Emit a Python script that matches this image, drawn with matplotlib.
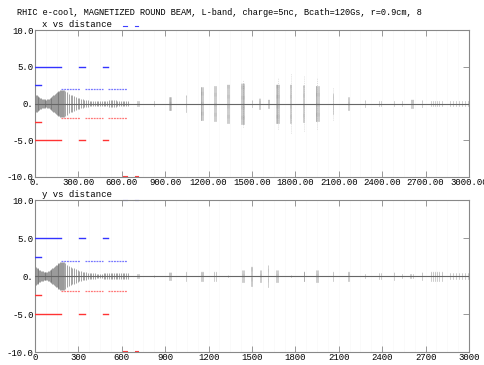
import matplotlib
matplotlib.use("Agg")
import matplotlib.pyplot as plt

# beam envelope plot, two panels: x and y half-size vs distance (cm)
title = "RHIC e-cool, MAGNETIZED ROUND BEAM, L-band, charge=5nc, Bcath=120Gs, r=0.9cm, 8"

# dense region near the gun (same for x and y)
dense_pos = [0, 6, 12, 18, 24, 30, 36, 42, 48, 54, 60, 66, 72, 78, 84, 90, 96,
             102, 108, 114, 120, 126, 132, 138, 144, 150, 156, 162, 168, 174,
             180, 186, 192]
dense_amp = [1.2, 1.15, 1.1, 1.0, 0.95, 0.85, 0.8, 0.7, 0.65, 0.6, 0.55, 0.55,
             0.5, 0.5, 0.55, 0.6, 0.65, 0.75, 0.8, 0.9, 1.0, 1.1, 1.2, 1.3,
             1.4, 1.5, 1.6, 1.7, 1.75, 1.85, 1.9, 1.9, 1.85]
mid_pos = [198, 210, 222, 234, 246, 258, 270, 282, 294, 306, 318, 330, 342,
           354, 366, 378, 390, 402, 414, 426, 438, 450, 462, 474, 486, 498,
           510, 522, 534, 546, 558, 570, 582, 594, 606, 618, 630, 640]
mid_amp = [1.8, 1.65, 1.5, 1.35, 1.2, 1.1, 1.0, 0.9, 0.8, 0.72, 0.65, 0.58,
           0.52, 0.48, 0.44, 0.4, 0.38, 0.35, 0.33, 0.32, 0.3, 0.3, 0.32, 0.35,
           0.38, 0.4, 0.42, 0.45, 0.45, 0.45, 0.42, 0.4, 0.38, 0.38, 0.38, 0.4,
           0.4, 0.4]

# clusters downstream
x_cluster_pos = [[705, 712, 719], [823], [925, 930, 935, 940], [1043],
                 [1145, 1150, 1155, 1160], [1240, 1246, 1252], [1330, 1336, 1342],
                 [1425, 1430, 1435, 1440, 1445], [1497], [1550, 1558], [1610, 1616],
                 [1665, 1670, 1675, 1680, 1685], [1765, 1772], [1855, 1862],
                 [1940, 1945, 1950, 1955, 1960], [2060], [2165, 2172], [2280],
                 [2380, 2390], [2480], [2536], [2596, 2604, 2612], [2672],
                 [2735, 2750, 2765, 2780, 2795, 2810],
                 [2870, 2890, 2910, 2930, 2950, 2970, 2990]]
x_cluster_amp = [0.4, 0.4, 0.9, 1.1, 2.2, 2.4, 2.6, 2.8, 0.5, 0.7, 0.6, 2.6, 2.6,
                 2.5, 2.4, 1.4, 0.9, 0.5, 0.35, 0.4, 0.4, 0.6, 0.5, 0.35, 0.3]
x_halo_pos = [1438, 1677, 1769, 1859, 1949, 2060]
x_halo_amp = [3.2, 3.5, 4.0, 3.8, 3.5, 2.3]

y_cluster_pos = [[705, 712, 719], [823], [928, 935, 940], [1043],
                 [1145, 1152, 1159], [1240, 1248], [1336], [1430, 1438, 1445],
                 [1490, 1497], [1552, 1560], [1612], [1665, 1672, 1679], [1769],
                 [1856, 1862], [1945, 1952, 1958], [2060], [2165, 2172], [2280],
                 [2380, 2390], [2480], [2536], [2590, 2600, 2610], [2672],
                 [2735, 2750, 2765, 2780, 2795, 2810],
                 [2870, 2890, 2910, 2930, 2950, 2970, 2990]]
y_cluster_amp = [0.3, 0.1, 0.5, 0.6, 0.7, 0.6, 0.1, 0.8, 1.3, 0.8, 1.5, 0.8, 0.1,
                 0.6, 0.8, 0.6, 0.7, 0.2, 0.4, 0.5, 0.2, 0.2, 0.5, 0.6, 0.4]

# apertures (start, end, radius)
solid_aper = [(0, 180, 5.0), (305, 345, 5.0), (468, 506, 5.0), (0, 40, 2.5)]
dash_aper = [(180, 311, 2.0), (345, 472, 2.0), (506, 633, 2.0)]
edge_marks = [(608, 636), (690, 712)]

top_ticks = ["0.", "300.00", "600.00", "900.00", "1200.00", "1500.00", "1800.00",
             "2100.00", "2400.00", "2700.00", "3000.00"]
bot_ticks = ["0", "300", "600", "900", "1200", "1500", "1800", "2100", "2400",
             "2700", "3000"]
y_ticks = [10, 5, 0, -5, -10]
y_labels = ["10.0", "5.0", "0.", "-5.0", "-10.0"]

plt.rcParams['font.family'] = ['Liberation Mono', 'DejaVu Sans Mono']
fig = plt.figure(figsize=(4.85, 3.65), dpi=100)
ax1 = fig.add_axes([35 / 485, 188 / 365, 434 / 485, 147 / 365])
ax2 = fig.add_axes([35 / 485, 13 / 365, 434 / 485, 152 / 365])


def draw_panel(ax, cl_pos, cl_amp, halo_pos, halo_amp, xt_labels, name, top_marks):
    ax.set_xlim(0, 3000)
    ax.set_ylim(-10, 10)
    for g in range(75, 3000, 75):
        ax.axvline(g, color='#f8f8f8', lw=0.5, zorder=0)
    ax.axhline(0, color='#666666', lw=0.8, zorder=3)
    ax.vlines(dense_pos, [-a for a in dense_amp], dense_amp, color='#707070', lw=0.5)
    ax.vlines(mid_pos, [-a for a in mid_amp], mid_amp, color='#808080', lw=0.5)
    for pos, a in zip(cl_pos, cl_amp):
        ax.vlines(pos, -a, a, color='#8a8a8a', lw=0.5, linestyles=(0, (1, 0.6)))
    for p, a in zip(halo_pos, halo_amp):
        ax.vlines(p, -a, a, color='#c0c0c0', lw=0.5, linestyles=(0, (1, 2)))
    for s, e, r in solid_aper:
        ax.plot([s, e], [r, r], color='#3333ff', lw=1.0, zorder=4)
        ax.plot([s, e], [-r, -r], color='#ff3333', lw=1.0, zorder=4)
    for s, e, r in dash_aper:
        ax.plot([s, e], [r, r], color='#7777ff', lw=0.9, ls=(0, (1.5, 0.7)), zorder=4)
        ax.plot([s, e], [-r, -r], color='#ff7777', lw=0.9, ls=(0, (1.5, 0.7)), zorder=4)
    for s, e in edge_marks:
        if top_marks:
            ax.plot([s, e], [10.5, 10.5], color='#4040ff', lw=0.8, clip_on=False)
        else:
            ax.plot([s, e], [10.0, 10.0], color='#4040ff', lw=0.8, clip_on=False)
        ax.plot([s, e], [-9.9, -9.9], color='#ff4040', lw=0.8, clip_on=False)
    ax.set_xticks(range(0, 3001, 300))
    ax.set_xticklabels(xt_labels)
    ax.set_yticks(y_ticks)
    ax.set_yticklabels(y_labels)
    ax.tick_params(direction='in', length=4, width=0.6, color='#888888',
                   labelsize=6.5, pad=1, top=True, right=True)
    for sp in ax.spines.values():
        sp.set_color('#888888')
        sp.set_linewidth(0.8)
    ax.text(0.015, 1.005, name, transform=ax.transAxes, fontsize=6.5,
            va='bottom', ha='left')


draw_panel(ax1, x_cluster_pos, x_cluster_amp, x_halo_pos, x_halo_amp,
           top_ticks, "x vs distance", True)
draw_panel(ax2, y_cluster_pos, y_cluster_amp, [], [], bot_ticks, "y vs distance", False)

fig.text(17 / 485, 1 - 12.5 / 365, title, fontsize=6.2, va='center', ha='left')

fig.savefig("out.png", dpi=100)
